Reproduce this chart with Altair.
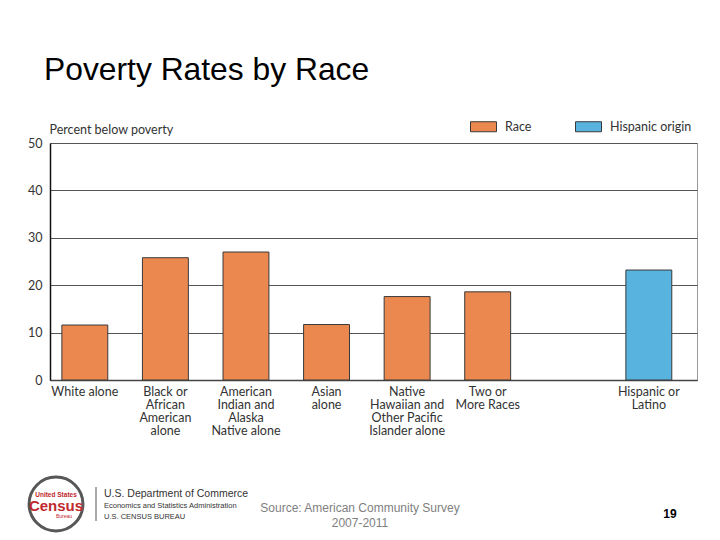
import altair as alt
import pandas as pd

# ---- data ----
categories = [
    "White alone",
    "Black or|African|American|alone",
    "American|Indian and|Alaska|Native alone",
    "Asian|alone",
    "Native|Hawaiian and|Other Pacific|Islander alone",
    "Two or|More Races",
    "Hispanic or|Latino",
]
values = [11.6, 25.8, 27.0, 11.7, 17.6, 18.6, 23.2]
groups = ["Race", "Race", "Race", "Race", "Race", "Race", "Hispanic origin"]
x_domain = categories[:6] + [" "] + categories[6:]
y_ticks = [0, 10, 20, 30, 40, 50]
legend_items = ["Race", "Hispanic origin"]
legend_colors = ["#EA884F", "#58B4DF"]

df = pd.DataFrame({"category": categories, "value": values, "group": groups})

label_font = "Lato"

bars = alt.Chart(df).mark_bar(stroke="#3a3a3a", strokeWidth=1).encode(
    x=alt.X(
        "category:N",
        sort=x_domain,
        scale=alt.Scale(domain=x_domain, paddingInner=0.43, paddingOuter=0.23, align=0.32),
        axis=alt.Axis(
            title=None,
            labelAngle=0,
            labelExpr="split(datum.label, '|')",
            labelFont=label_font,
            labelFontSize=12.5,
            labelColor="#333333",
            labelLineHeight=13,
            labelBaseline="top",
            labelPadding=5,
            ticks=False,
            domainColor="#444444",
            domainWidth=1.5,
            labelLimit=200,
        ),
    ),
    y=alt.Y(
        "value:Q",
        scale=alt.Scale(domain=[0, 50], nice=False),
        axis=alt.Axis(
            values=y_ticks,
            title="Percent below poverty",
            titleAngle=0,
            titleAlign="left",
            titleBaseline="bottom",
            titleX=-1,
            titleY=-7,
            titleFont=label_font,
            titleFontSize=12.5,
            titleFontWeight="normal",
            titleColor="#333333",
            labelFont=label_font,
            labelFontSize=12.5,
            labelColor="#333333",
            labelPadding=8,
            ticks=False,
            grid=True,
            gridColor="#555555",
            gridWidth=1,
            domainColor="#111111",
            domainWidth=1.5,
        ),
    ),
    color=alt.Color(
        "group:N",
        scale=alt.Scale(domain=legend_items, range=legend_colors),
        legend=alt.Legend(
            title=None,
            orient="none",
            direction="horizontal",
            legendX=420,
            legendY=-30,
            symbolType="M-1,-0.385H1V0.385H-1Z",
            symbolSize=676,
            symbolStrokeColor="#3a3a3a",
            symbolStrokeWidth=1,
            labelOffset=8,
            columnPadding=41,
            labelFont=label_font,
            labelFontSize=12.5,
            labelColor="#333333",
        ),
    ),
)

def txt(s, x, y, **kw):
    return alt.Chart(pd.DataFrame({"t": [s]})).mark_text(**kw).encode(
        text="t:N", x=alt.value(x), y=alt.value(y)
    )

title = txt("Poverty Rates by Race", -6, -63, font="Liberation Sans", fontSize=31.8,
            align="left", baseline="alphabetic", color="#000000")
src1 = txt("Source: American Community Survey", 310, 365, font="Liberation Sans", fontSize=12,
           align="center", baseline="middle", color="#7f7f7f")
src2 = txt("2007-2011", 310, 380, font="Liberation Sans", fontSize=12,
           align="center", baseline="middle", color="#7f7f7f")
page = txt("19", 620, 371, font="Liberation Sans", fontSize=12, fontWeight="bold",
           align="center", baseline="middle", color="#000000")
dept1 = txt("U.S. Department of Commerce", 54, 351, font="Liberation Sans", fontSize=10.5,
            align="left", baseline="middle", color="#333333")
dept2 = txt("Economics and Statistics Administration", 54, 363, font="Liberation Sans", fontSize=7.5,
            align="left", baseline="middle", color="#333333")
dept3 = txt("U.S. CENSUS BUREAU", 54, 374, font="Liberation Sans", fontSize=7.5,
            align="left", baseline="middle", color="#333333")
logo_ring = alt.Chart(pd.DataFrame({"t": [1]})).mark_point(
    shape="circle", size=2900, filled=False, stroke="#111111", strokeWidth=3
).encode(x=alt.value(6), y=alt.value(361))
logo1 = txt("United States", 6, 352, font="Liberation Sans", fontSize=6.5, fontWeight="bold",
            align="center", baseline="middle", color="#c0282d")
logo2 = txt("Census", 6, 363, font="Liberation Sans", fontSize=15, fontWeight="bold",
            align="center", baseline="middle", color="#c0282d")
logo3 = txt("Bureau", 14, 373, font="Liberation Sans", fontSize=5,
            align="center", baseline="middle", color="#c0282d")
sep = alt.Chart(pd.DataFrame({"t": [1]})).mark_rule(color="#555555", strokeWidth=1).encode(
    x=alt.value(46), y=alt.value(344), y2=alt.value(378)
)

chart = alt.layer(
    bars, title, src1, src2, page, dept1, dept2, dept3, logo_ring, logo1, logo2, logo3, sep
).properties(
    width=647,
    height=237,
    autosize=alt.AutoSizeParams(type="none"),
    padding={"left": 42, "top": 135, "right": 15, "bottom": 157},
    background="#ffffff",
).configure_view(stroke="#999999", strokeWidth=1)

chart.save("out.html", embed_options={"renderer": "svg", "actions": False})
